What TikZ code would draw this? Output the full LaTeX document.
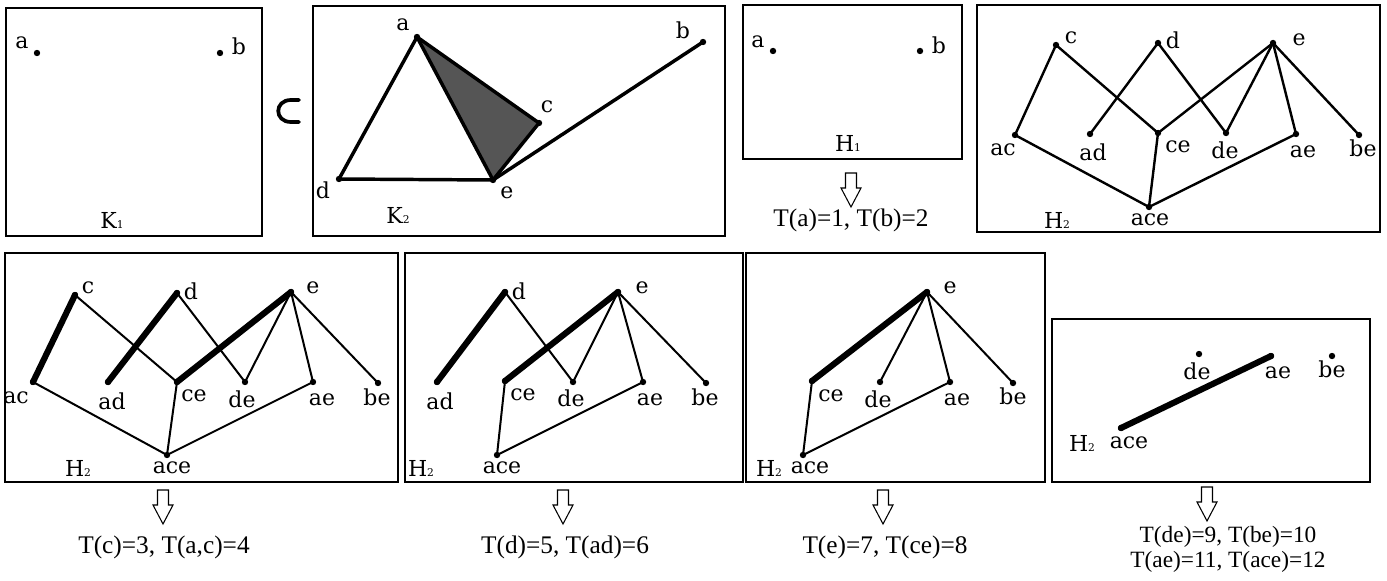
\documentclass[tikz,border=0pt]{standalone}
\usepackage{fontspec}
\setmainfont{Liberation Serif}
\newfontfamily\lblfont{DejaVu Serif}
\newcommand\subdig[1]{{\fontsize{8}{8}\selectfont #1}}
\definecolor{darkfill}{RGB}{85,85,85}
\tikzset{
  panel/.style={draw, line width=2pt},
  dot/.style={circle, fill=black, inner sep=0pt, minimum size=4.8pt},
  lbl/.style={font=\lblfont\fontsize{16.5}{16.5}\selectfont, inner sep=0pt},
  ttext/.style={font=\fontsize{19}{19}\selectfont, inner sep=0pt, anchor=base},
  smalltext/.style={ttext, font=\fontsize{17.5}{17.5}\selectfont},
  kedge/.style={line width=2.6pt, line cap=round, line join=round},
  hedge/.style={line width=1.8pt, line cap=round},
  thinedge/.style={line width=1.5pt, line cap=round},
  thickedge/.style={line width=4.6pt, line cap=round},
  hollowdown/.pic={\draw[line width=0.8pt, line join=miter, fill=white]
     (-5.5,0) -- (5.5,0) -- (5.5,15) -- (10,15) -- (0,34) -- (-10,15) -- (-5.5,15) -- cycle;}
}
\begin{document}
\begin{tikzpicture}[x=0.75pt,y=-0.75pt]
\useasboundingbox (0,0) rectangle (1387,581);

% ---------- K1 ----------
\draw[panel] (6,8) rectangle (262,236);
\node[dot] (k1a) at (37,53) {};
\node[lbl] (k1al) at (22,43) {a};
\node[dot] (k1b) at (220,53) {};
\node[lbl] (k1bl) at (239,46) {b};
\node[lbl] (k1name) at (112,220) {K\subdig{1}};

% subset symbol
\draw[line width=2.8pt, line cap=round] (299,100) -- (291,100)
   .. controls (274,100) and (274,122) .. (291,122) -- (299,122);

% ---------- K2 ----------
\draw[panel] (313,6) rectangle (725,236);
\node[dot] (k2a) at (417,37) {};
\node[dot] (k2b) at (703,42) {};
\node[dot] (k2c) at (539,123) {};
\node[dot] (k2d) at (339,179) {};
\node[dot] (k2e) at (493,180) {};
\fill[darkfill] (k2a.center) -- (k2c.center) -- (k2e.center) -- cycle;
\draw[kedge] (k2a.center) -- (k2d.center);
\draw[kedge] (k2d.center) -- (k2e.center);
\draw[kedge] (k2a.center) -- (k2e.center);
\draw[kedge] (k2a.center) -- (k2c.center);
\draw[kedge] (k2c.center) -- (k2e.center);
\draw[kedge] (k2e.center) -- (k2b.center);
\node[lbl] (k2al) at (403,25) {a};
\node[lbl] (k2bl) at (683,30) {b};
\node[lbl] (k2cl) at (547,107) {c};
\node[lbl] (k2dl) at (323,190) {d};
\node[lbl] (k2el) at (507,193) {e};
\node[lbl] (k2name) at (398,215) {K\subdig{2}};

% ---------- H1 ----------
\draw[panel] (743,5) rectangle (962,159);
\node[dot] (h1a) at (773,51) {};
\node[lbl] (h1al) at (758,42) {a};
\node[dot] (h1b) at (920,51) {};
\node[lbl] (h1bl) at (939,45) {b};
\node[lbl] (h1name) at (848,143) {H\subdig{1}};
\pic at (851,173) {hollowdown};
\node[ttext] (t1) at (851,226) {T(a)=1, T(b)=2};

% ---------- H2 (top right) ----------
\draw[panel] (977,5) rectangle (1380,232);
\node[dot] (tc) at (1056,45) {};
\node[dot] (td) at (1158,43) {};
\node[dot] (te) at (1273,43) {};
\node[dot] (tac) at (1015,135) {};
\node[dot] (tad) at (1090,134) {};
\node[dot] (tce) at (1158,133) {};
\node[dot] (tde) at (1226,133) {};
\node[dot] (tae) at (1296,134) {};
\node[dot] (tbe) at (1359,135) {};
\node[dot] (tace) at (1149,207) {};
\foreach \u/\v in {tc/tac, tc/tce, td/tad, td/tde, te/tce, te/tde, te/tae, te/tbe, tac/tace, tce/tace, tae/tace}
  \draw[hedge] (\u.center) -- (\v.center);
\node[lbl] (tcl) at (1071,38) {c};
\node[lbl] (tdl) at (1173,40) {d};
\node[lbl] (tel) at (1299,40) {e};
\node[lbl] (tacl) at (1003,150) {ac};
\node[lbl] (tadl) at (1093,152) {ad};
\node[lbl] (tcel) at (1178,147) {ce};
\node[lbl] (tdel) at (1225,150) {de};
\node[lbl] (tael) at (1303,152) {ae};
\node[lbl] (tbel) at (1363,148) {be};
\node[lbl] (tacel) at (1150,220) {ace};
\node[lbl] (tname) at (1057,220) {H\subdig{2}};

% ---------- Bottom panel 1 ----------
\draw[panel] (5,253) rectangle (398,482);
\node[dot] (ac) at (75,295) {};
\node[dot] (ad) at (177,293) {};
\node[dot] (ae) at (291,292) {};
\node[dot] (aac) at (33,382) {};
\node[dot] (aad) at (108,382) {};
\node[dot] (ace) at (177,382) {};
\node[dot] (ade) at (245,382) {};
\node[dot] (aae) at (313,382) {};
\node[dot] (abe) at (378,383) {};
\node[dot] (aace) at (167,455) {};
\foreach \u/\v in {ac/ace, ad/ade, ae/ade, ae/aae, ae/abe, aac/aace, ace/aace, aae/aace}
  \draw[thinedge] (\u.center) -- (\v.center);
\foreach \u/\v in {ac/aac, ad/aad, ae/ace}
  \draw[thickedge] (\u.center) -- (\v.center);
\node[lbl] (acl) at (88,288) {c};
\node[lbl] (adl) at (191,291) {d};
\node[lbl] (ael) at (313,288) {e};
\node[lbl] (aacl) at (16,398) {ac};
\node[lbl] (aadl) at (112,401) {ad};
\node[lbl] (acel) at (194,396) {ce};
\node[lbl] (adel) at (242,399) {de};
\node[lbl] (aael) at (322,400) {ae};
\node[lbl] (abel) at (377,397) {be};
\node[lbl] (aacel) at (172,468) {ace};
\node[lbl] (aname) at (78,468) {H\subdig{2}};
\pic at (163,490) {hollowdown};
\node[ttext] (t2) at (164,553) {T(c)=3, T(a,c)=4};

% ---------- Bottom panel 2 ----------
\draw[panel] (405,253) rectangle (743,482);
\node[dot] (bd) at (505,292) {};
\node[dot] (be) at (618,292) {};
\node[dot] (bad) at (437,382) {};
\node[dot] (bce) at (505,381) {};
\node[dot] (bde) at (573,382) {};
\node[dot] (bae) at (643,382) {};
\node[dot] (bbe) at (706,383) {};
\node[dot] (bace) at (497,455) {};
\foreach \u/\v in {bd/bde, be/bde, be/bae, be/bbe, bce/bace, bae/bace}
  \draw[thinedge] (\u.center) -- (\v.center);
\foreach \u/\v in {bd/bad, be/bce}
  \draw[thickedge] (\u.center) -- (\v.center);
\node[lbl] (bdl) at (519,291) {d};
\node[lbl] (bel) at (642,288) {e};
\node[lbl] (badl) at (440,401) {ad};
\node[lbl] (bcel) at (523,395) {ce};
\node[lbl] (bdel) at (571,398) {de};
\node[lbl] (bael) at (650,400) {ae};
\node[lbl] (bbel) at (705,397) {be};
\node[lbl] (bacel) at (502,468) {ace};
\node[lbl] (bname) at (421,468) {H\subdig{2}};
\pic at (563,490) {hollowdown};
\node[ttext] (t3) at (565,553) {T(d)=5, T(ad)=6};

% ---------- Bottom panel 3 ----------
\draw[panel] (746,253) rectangle (1045,482);
\node[dot] (ce) at (927,292) {};
\node[dot] (cce) at (812,381) {};
\node[dot] (cde) at (880,382) {};
\node[dot] (cae) at (950,382) {};
\node[dot] (cbe) at (1013,383) {};
\node[dot] (cace) at (803,455) {};
\foreach \u/\v in {ce/cde, ce/cae, ce/cbe, cce/cace, cae/cace}
  \draw[thinedge] (\u.center) -- (\v.center);
\draw[thickedge] (ce.center) -- (cce.center);
\node[lbl] (cel) at (950,288) {e};
\node[lbl] (ccel) at (831,396) {ce};
\node[lbl] (cdel) at (878,399) {de};
\node[lbl] (cael) at (957,400) {ae};
\node[lbl] (cbel) at (1013,396) {be};
\node[lbl] (cacel) at (810,468) {ace};
\node[lbl] (cname) at (769,468) {H\subdig{2}};
\pic at (883,490) {hollowdown};
\node[ttext] (t4) at (885,553) {T(e)=7, T(ce)=8};

% ---------- Bottom panel 4 ----------
\draw[panel] (1052,319) rectangle (1370,482);
\node[dot] (dde) at (1199,354) {};
\node[dot] (dae) at (1271,356) {};
\node[dot] (dbe) at (1332,356) {};
\node[dot] (dace) at (1121,428) {};
\draw[thickedge] (dace.center) -- (dae.center);
\node[lbl] (ddel) at (1197,371) {de};
\node[lbl] (dael) at (1278,373) {ae};
\node[lbl] (dbel) at (1332,369) {be};
\node[lbl] (dacel) at (1129,443) {ace};
\node[lbl] (dname) at (1082,443) {H\subdig{2}};
\pic at (1207,487) {hollowdown};
\node[smalltext] (t5) at (1228,542) {T(de)=9, T(be)=10};
\node[smalltext] (t6) at (1228,567) {T(ae)=11, T(ace)=12};
\end{tikzpicture}
\end{document}
